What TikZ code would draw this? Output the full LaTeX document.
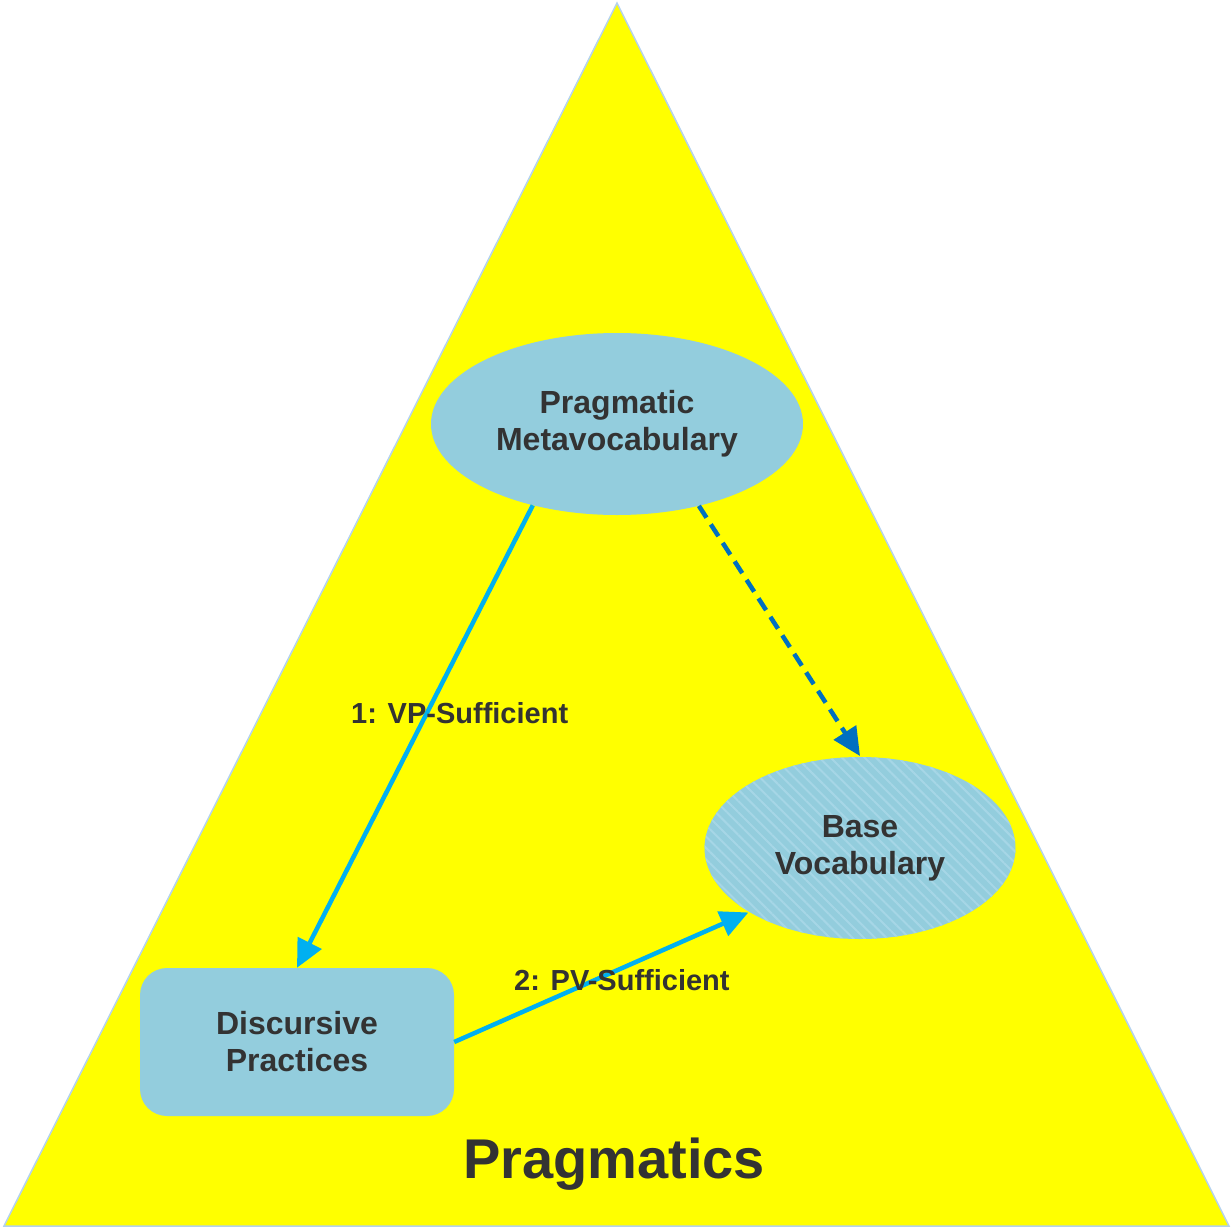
\documentclass[tikz,border=0pt]{standalone}
\usepackage{fontspec}
\setmainfont{Liberation Sans}
\usepackage{tikz}
\usetikzlibrary{
    calc,
    arrows.meta,
    shapes.geometric,
    patterns.meta
}
\definecolor{triyellow}{HTML}{FFFF00}
\definecolor{triedge}{HTML}{B4D2EE}
\definecolor{boxblue}{HTML}{93CDDD}
\definecolor{stripeblue}{HTML}{A6D6E6}
\definecolor{txtgrey}{HTML}{333333}
\definecolor{linkcyan}{HTML}{00B0F0}
\definecolor{linkblue}{HTML}{0070C0}
\tikzset{
    concept/.style={ellipse, fill=boxblue, inner sep=0pt, align=center,
        text=txtgrey, font=\fontsize{32}{37}\selectfont\bfseries},
    practice/.style={rectangle, rounded corners=27pt, fill=boxblue, align=center,
        text=txtgrey, font=\fontsize{32}{37}\selectfont\bfseries,
        minimum width=314pt, minimum height=148pt},
    sufflabel/.style={text=txtgrey, font=\fontsize{29}{32}\selectfont\bfseries},
    suff/.style={draw=linkcyan, line width=4.5pt, -{Triangle[length=28pt,width=26pt]}},
    impl/.style={draw=linkblue, line width=4.5pt, dash pattern=on 14pt off 8pt,
        -{Triangle[length=28pt,width=26pt]}}
}

\begin{document}
\begin{tikzpicture}[x=1pt,y=-1pt]
        \useasboundingbox (0,0) rectangle (1231,1228);
        \draw[triedge, fill=triyellow, line width=1.5pt] (617,3) -- (1229,1226) -- (4,1226) -- cycle;

        \draw (617,424) node[concept, minimum width=372pt, minimum height=182pt](pm){Pragmatic\\Metavocabulary};
        \draw (860,848) node[concept, minimum width=311pt, minimum height=182pt, preaction={fill=boxblue},
            pattern={Lines[angle=-45,distance=8pt,line width=2pt]}, pattern color=stripeblue](bv){Base\\Vocabulary};
        \draw (297,1042) node[practice](dp){Discursive\\Practices};
        \draw (614,1164) node[text=txtgrey, font=\fontsize{56}{60}\selectfont\bfseries](title){Pragmatics};

        \draw[suff] (pm.-136) to node[sufflabel, pos=0.45, xshift=33pt]{1: VP-Sufficient} (dp.north);
        \draw[suff] (dp.east) to node[sufflabel, pos=0.57, yshift=-12pt]{2: PV-Sufficient} (bv.-150);
        \draw[impl] (pm.-45) to (bv.north);
    \end{tikzpicture}
\end{document}
